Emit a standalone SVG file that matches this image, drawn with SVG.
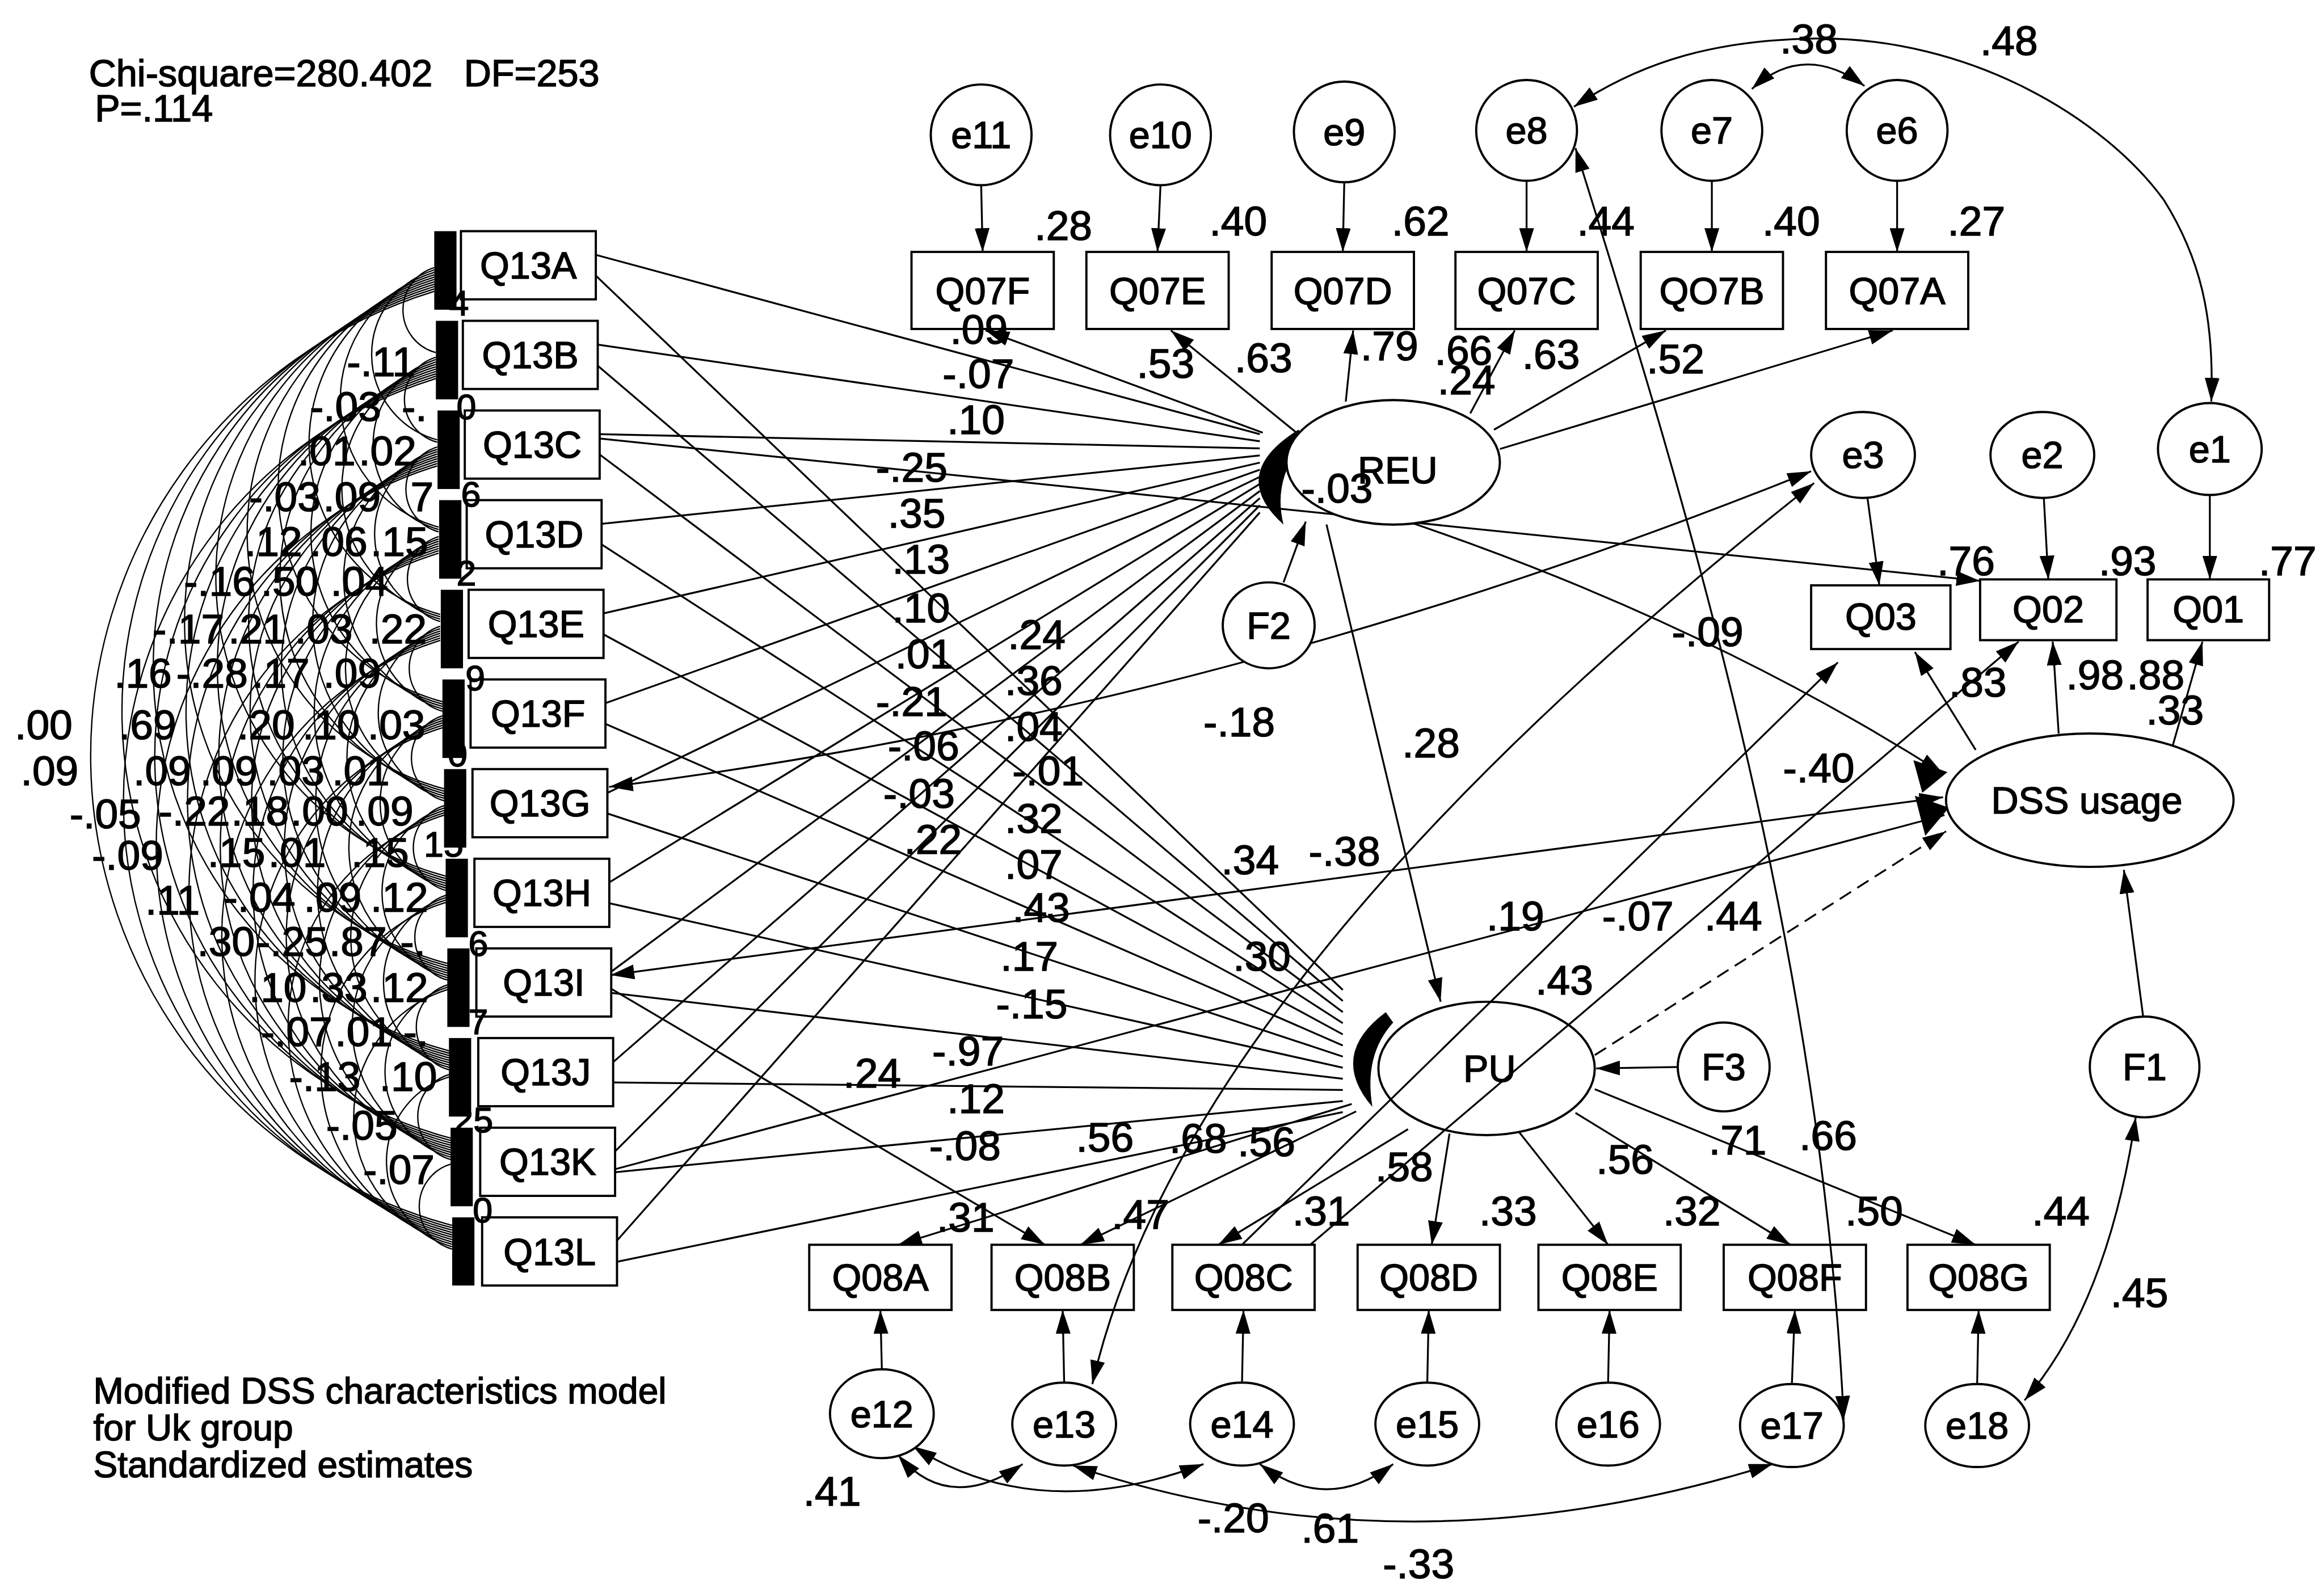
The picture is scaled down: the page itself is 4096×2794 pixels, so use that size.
<svg xmlns="http://www.w3.org/2000/svg" width="4096" height="2794" viewBox="0 0 4096 2794">
<defs>
<style>
.n{fill:#fff;stroke:#000;stroke-width:1.5}
.o{fill:none;stroke:#000;stroke-width:1.5}
.c{fill:none;stroke:#000;stroke-width:1.25}
.k{fill:none;stroke:#000;stroke-width:0.9}
.a{marker-end:url(#ah)}
.d{marker-start:url(#ah);marker-end:url(#ah)}
.dash{stroke-dasharray:9 5}
.bar{fill:#000}
text{font-family:"Liberation Sans",Arial,sans-serif;fill:#000;stroke:#000;stroke-width:0.6}
.t{font-size:25.5px;text-anchor:middle}
.v{font-size:28px}
.f{font-size:24px}
.h{font-size:25.5px;white-space:pre}
.h2{font-size:24.5px}
</style>
<marker id="ah" viewBox="0 0 16 10" refX="16" refY="5" markerWidth="16" markerHeight="10" markerUnits="userSpaceOnUse" orient="auto-start-reverse"><path d="M0,0 L16,5 L0,10 Z" fill="#000"/></marker>
</defs>
<rect width="4096" height="2794" fill="#fff"/>
<g transform="scale(2.6122)">

<g id="title">
<text class="h" x="60" y="58">Chi-square=280.402   DF=253</text>
<text class="h" x="64" y="82">P=.114</text>
<text class="h2" x="63" y="947">Modified DSS characteristics model</text>
<text class="h2" x="63" y="972">for Uk group</text>
<text class="h2" x="63" y="997">Standardized estimates</text>
</g>

<g id="connectors">
<g id="covariances" class="k">
<path d="M293 180.6 A29.8 29.8 0 0 0 294 237.9"/>
<path d="M294 241.1 A29.8 29.8 0 0 0 295 298.4"/>
<path d="M295 301.6 A29.8 29.8 0 0 0 296 358.9"/>
<path d="M296 362.1 A29.8 29.8 0 0 0 297 419.4"/>
<path d="M297 422.6 A29.8 29.8 0 0 0 298.5 479.9"/>
<path d="M298.5 483.1 A29.8 29.8 0 0 0 300 540.4"/>
<path d="M300 543.6 A29.8 29.8 0 0 0 301 600.9"/>
<path d="M301 604.1 A29.8 29.8 0 0 0 302 661.4"/>
<path d="M302 664.6 A29.8 29.8 0 0 0 303 721.9"/>
<path d="M303 725.1 A29.8 29.8 0 0 0 304 782.4"/>
<path d="M304 785.6 A29.8 29.8 0 0 0 305 842.9"/>
<path d="M293 182.2 A59.6 59.6 0 0 0 295 296.8"/>
<path d="M294 242.7 A59.6 59.6 0 0 0 296 357.3"/>
<path d="M295 303.2 A59.6 59.6 0 0 0 297 417.8"/>
<path d="M296 363.7 A59.6 59.6 0 0 0 298.5 478.3"/>
<path d="M297 424.2 A59.6 59.6 0 0 0 300 538.8"/>
<path d="M298.5 484.7 A59.6 59.6 0 0 0 301 599.3"/>
<path d="M300 545.2 A59.6 59.6 0 0 0 302 659.8"/>
<path d="M301 605.7 A59.6 59.6 0 0 0 303 720.3"/>
<path d="M302 666.2 A59.6 59.6 0 0 0 304 780.8"/>
<path d="M303 726.7 A59.6 59.6 0 0 0 305 841.3"/>
<path d="M293 183.8 A89.4 89.4 0 0 0 296 355.7"/>
<path d="M294 244.3 A89.4 89.4 0 0 0 297 416.2"/>
<path d="M295 304.8 A89.4 89.4 0 0 0 298.5 476.7"/>
<path d="M296 365.3 A89.4 89.4 0 0 0 300 537.2"/>
<path d="M297 425.8 A89.4 89.4 0 0 0 301 597.7"/>
<path d="M298.5 486.3 A89.4 89.4 0 0 0 302 658.2"/>
<path d="M300 546.8 A89.4 89.4 0 0 0 303 718.7"/>
<path d="M301 607.3 A89.4 89.4 0 0 0 304 779.2"/>
<path d="M302 667.8 A89.4 89.4 0 0 0 305 839.7"/>
<path d="M293 185.4 A119.2 119.2 0 0 0 297 414.6"/>
<path d="M294 245.9 A119.2 119.2 0 0 0 298.5 475.1"/>
<path d="M295 306.4 A119.2 119.2 0 0 0 300 535.6"/>
<path d="M296 366.9 A119.2 119.2 0 0 0 301 596.1"/>
<path d="M297 427.4 A119.2 119.2 0 0 0 302 656.6"/>
<path d="M298.5 487.9 A119.2 119.2 0 0 0 303 717.1"/>
<path d="M300 548.4 A119.2 119.2 0 0 0 304 777.6"/>
<path d="M301 608.9 A119.2 119.2 0 0 0 305 838.1"/>
<path d="M293 187 A149 149 0 0 0 298.5 473.5"/>
<path d="M294 247.5 A149 149 0 0 0 300 534"/>
<path d="M295 308 A149 149 0 0 0 301 594.5"/>
<path d="M296 368.5 A149 149 0 0 0 302 655"/>
<path d="M297 429 A149 149 0 0 0 303 715.5"/>
<path d="M298.5 489.5 A149 149 0 0 0 304 776"/>
<path d="M300 550 A149 149 0 0 0 305 836.5"/>
<path d="M293 188.6 A178.8 178.8 0 0 0 300 532.4"/>
<path d="M294 249.1 A178.8 178.8 0 0 0 301 592.9"/>
<path d="M295 309.6 A178.8 178.8 0 0 0 302 653.4"/>
<path d="M296 370.1 A178.8 178.8 0 0 0 303 713.9"/>
<path d="M297 430.6 A178.8 178.8 0 0 0 304 774.4"/>
<path d="M298.5 491.1 A178.8 178.8 0 0 0 305 834.9"/>
<path d="M293 190.2 A208.6 208.6 0 0 0 301 591.3"/>
<path d="M294 250.7 A208.6 208.6 0 0 0 302 651.8"/>
<path d="M295 311.2 A208.6 208.6 0 0 0 303 712.3"/>
<path d="M296 371.7 A208.6 208.6 0 0 0 304 772.8"/>
<path d="M297 432.2 A208.6 208.6 0 0 0 305 833.3"/>
<path d="M293 191.8 A238.4 238.4 0 0 0 302 650.2"/>
<path d="M294 252.3 A238.4 238.4 0 0 0 303 710.7"/>
<path d="M295 312.8 A238.4 238.4 0 0 0 304 771.2"/>
<path d="M296 373.3 A238.4 238.4 0 0 0 305 831.7"/>
<path d="M293 193.4 A268.2 268.2 0 0 0 303 709.1"/>
<path d="M294 253.9 A268.2 268.2 0 0 0 304 769.6"/>
<path d="M295 314.4 A268.2 268.2 0 0 0 305 830.1"/>
<path d="M293 195 A298 298 0 0 0 304 768"/>
<path d="M294 255.5 A298 298 0 0 0 305 828.5"/>
<path d="M293 196.6 A327.8 327.8 0 0 0 305 826.9"/>
</g>

<g id="q13-to-reu" class="c">
<path d="M402 172 L850 293"/>
<path d="M403 232.5 L850 297.8"/>
<path d="M405 293 L850 302.6"/>
<path d="M406 353.5 L850 307.4"/>
<path d="M407 414 L850 312.2"/>
<path d="M408.5 474.5 L850 317"/>
<path d="M410 535 L850 321.8"/>
<path d="M411 595.5 L850 326.6"/>
<path d="M412 656 L850 331.4"/>
<path d="M414 716.5 L850 336.2"/>
<path d="M415 777 L850 341"/>
<path d="M416 837.5 L850 345.8"/>
</g>
<g id="q13-to-pu" class="c">
<path d="M402 186 L906 668"/>
<path d="M403 246.5 L906 675.5"/>
<path d="M405 307 L906 683"/>
<path d="M406 367.5 L906 690.5"/>
<path d="M407 428 L906 698"/>
<path d="M408.5 488.5 L906 705.5"/>
<path d="M410 549 L906 713"/>
<path d="M411 609.5 L906 720.5"/>
<path d="M412 670 L906 728"/>
<path d="M414 730.5 L906 735.5"/>
<path d="M415 791 L906 743"/>
<path d="M416 851.5 L906 750.5"/>
</g>

<g id="paths" class="c">
<path class="a" d="M662 125 L663 170"/>
<path class="a" d="M783 125 L781 170"/>
<path class="a" d="M907 123 L906 170"/>
<path class="a" d="M1030 122 L1030 170"/>
<path class="a" d="M1155 122 L1155 170"/>
<path class="a" d="M1280 122 L1280 170"/>
<path class="a" d="M852 292 L665 223"/>
<path class="a" d="M876 293 L790 223"/>
<path class="a" d="M908 271 L913 223"/>
<path class="a" d="M992 279 L1022 223"/>
<path class="a" d="M1008 290 L1124 223"/>
<path class="a" d="M1012 303 L1277 223"/>
<path class="d" d="M1182 60 Q1217 28 1258 58"/>
<path class="d" d="M1062 72 C1110 40 1160 27 1225 26 C1330 25 1420 80 1460 135 C1485 175 1494 215 1492 271"/>
<path class="a" d="M1260 336 L1268 395"/>
<path class="a" d="M1379 336 L1382 391"/>
<path class="a" d="M1491 334 L1491 391"/>
<path class="a" d="M1333 506 L1292 440"/>
<path class="a" d="M1389 495 L1385 433"/>
<path class="a" d="M1466 503 L1486 433"/>
<path class="a" d="M405 296 L1336 392"/>
<path class="a" d="M950 352 Q1150 420 1311 522"/>
<path class="a" d="M895 354 L972 676"/>
<path class="a" d="M866 393 L881 352"/>
<path class="a" d="M1132 720 L1077 721"/>
<path class="a" d="M1446 686 L1433 587"/>
<path class="d" d="M1441 754 Q1422 880 1366 945"/>
<path class="a" d="M912 745 L606 840"/>
<path class="a" d="M915 750 L729 840"/>
<path class="a" d="M950 762 L822 840"/>
<path class="a" d="M978 765 L966 840"/>
<path class="a" d="M1025 764 L1085 840"/>
<path class="a" d="M1063 751 L1208 840"/>
<path class="a" d="M1076 735 L1333 840"/>
<path class="a" d="M595 924 L594 884"/>
<path class="a" d="M718 933 L717 884"/>
<path class="a" d="M838 933 L839 884"/>
<path class="a" d="M963 933 L964 884"/>
<path class="a" d="M1085 933 L1086 884"/>
<path class="a" d="M1209 934 L1211 884"/>
<path class="a" d="M1334 934 L1335 884"/>
<path class="d" d="M606 982 Q640 1022 690 988"/>
<path class="d" d="M616 976 Q700 1030 812 988"/>
<path class="d" d="M724 989 Q950 1065 1196 988"/>
<path class="d" d="M850 988 Q895 1022 940 988"/>
<path class="d" d="M1224 326 Q800 660 737 934"/>
<path class="d" d="M1222 318 Q820 480 411 531"/>
<path class="d" d="M1063 100 C1125 300 1228 620 1244 958"/>
<path class="a" d="M838 840 L1240 447"/>
<path class="a" d="M884 840 L1362 433"/>
<path class="a dash" d="M1076 712 L1313 561"/>
<path class="d" d="M412 658 L1311 538"/>
<path class="a" d="M415 789 L1312 550"/>
<path class="a" d="M412 667 L705 840"/>
</g>
</g>

<g id="corr-labels" class="v">
<text x="234" y="254">-.11</text>
<text x="209" y="284">-.03</text><text x="271" y="284">-.</text>
<text x="201" y="314">.01</text><text x="242" y="314">.02</text>
<text x="168" y="345">-.03</text><text x="218" y="345">.09</text><text x="277" y="345">7</text>
<text x="165" y="375">.12</text><text x="209" y="375">.06</text><text x="250" y="375">.15</text>
<text x="124" y="402">-.16</text><text x="176" y="402">.50</text><text x="223" y="402">.04</text>
<text x="103" y="434">-.17</text><text x="154" y="434">.21</text><text x="199" y="434">.03</text><text x="249" y="434">.22</text>
<text x="77" y="464">.16</text><text x="119" y="464">-.28</text><text x="170" y="464">.17</text><text x="218" y="464">.09</text>
<text x="10" y="499">.00</text><text x="80" y="499">.69</text><text x="160" y="499">.20</text><text x="204" y="499">.10</text><text x="248" y="499">.03</text>
<text x="14" y="530">.09</text><text x="90" y="530">.09</text><text x="135" y="530">.09</text><text x="180" y="530">.03</text><text x="224" y="530">.01</text>
<text x="47" y="559">-.05</text><text x="107" y="557">-.22</text><text x="156" y="557">.18</text><text x="196" y="557">.00</text><text x="240" y="557">.09</text>
<text x="62" y="587">-.09</text><text x="140" y="585">.15</text><text x="181" y="585">.01</text><text x="237" y="585">.15</text>
<text x="98" y="617">.11</text><text x="151" y="615">-.04</text><text x="205" y="615">.09</text><text x="250" y="615">.12</text>
<text x="133" y="645">.30</text><text x="173" y="645">-.25</text><text x="222" y="645">.87</text><text x="270" y="645">-.</text>
<text x="168" y="676">.10</text><text x="209" y="676">.33</text><text x="250" y="676">.12</text>
<text x="176" y="706">-.07</text><text x="226" y="706">.01</text><text x="272" y="706">-.</text>
<text x="195" y="736">-.13</text><text x="256" y="736">.10</text>
<text x="220" y="769">-.05</text>
<text x="245" y="799">-.07</text>
</g>

<g id="bars">
<rect class="bar" x="293" y="156" width="15" height="53"/>
<rect class="bar" x="294.1" y="216.5" width="15" height="53"/>
<rect class="bar" x="295.2" y="277" width="15" height="53"/>
<rect class="bar" x="296.3" y="337.5" width="15" height="53"/>
<rect class="bar" x="297.4" y="398" width="15" height="53"/>
<rect class="bar" x="298.5" y="458.5" width="15" height="53"/>
<rect class="bar" x="299.6" y="519" width="15" height="53"/>
<rect class="bar" x="300.7" y="579.5" width="15" height="53"/>
<rect class="bar" x="301.8" y="640" width="15" height="53"/>
<rect class="bar" x="302.9" y="700.5" width="15" height="53"/>
<rect class="bar" x="304" y="761" width="15" height="53"/>
<rect class="bar" x="305.1" y="821.5" width="15" height="46"/>
<path class="bar" d="M876 290 Q828 320 866 354 Q858 322 882 296 Z"/>
<path class="bar" d="M935 683 Q896 712 926 747 Q920 712 940 690 Z"/>
<path class="bar" d="M1291 513 L1314 521 L1297 535 Z"/>
<path class="bar" d="M1292 537 L1315 545 L1299 564 Z"/>
</g>

<g id="q13a"><rect class="n" x="311" y="156" width="91" height="46"/><text class="t" x="356.5" y="188">Q13A</text></g>
<g id="q13b"><rect class="n" x="312.3" y="216.5" width="91" height="46"/><text class="t" x="357.8" y="248.5">Q13B</text></g>
<g id="q13c"><rect class="n" x="313.6" y="277" width="91" height="46"/><text class="t" x="359.1" y="309">Q13C</text></g>
<g id="q13d"><rect class="n" x="314.9" y="337.5" width="91" height="46"/><text class="t" x="360.4" y="369.5">Q13D</text></g>
<g id="q13e"><rect class="n" x="316.2" y="398" width="91" height="46"/><text class="t" x="361.7" y="430">Q13E</text></g>
<g id="q13f"><rect class="n" x="317.5" y="458.5" width="91" height="46"/><text class="t" x="363" y="490.5">Q13F</text></g>
<g id="q13g"><rect class="n" x="318.8" y="519" width="91" height="46"/><text class="t" x="364.3" y="551">Q13G</text></g>
<g id="q13h"><rect class="n" x="320.1" y="579.5" width="91" height="46"/><text class="t" x="365.6" y="611.5">Q13H</text></g>
<g id="q13i"><rect class="n" x="321.4" y="640" width="91" height="46"/><text class="t" x="366.9" y="672">Q13I</text></g>
<g id="q13j"><rect class="n" x="322.7" y="700.5" width="91" height="46"/><text class="t" x="368.2" y="732.5">Q13J</text></g>
<g id="q13k"><rect class="n" x="324" y="761" width="91" height="46"/><text class="t" x="369.5" y="793">Q13K</text></g>
<g id="q13l"><rect class="n" x="325.3" y="821.5" width="91" height="46"/><text class="t" x="370.8" y="853.5">Q13L</text></g>

<g id="bar-fragments" class="f">
<text x="303" y="213">4</text><text x="308" y="283">0</text><text x="311" y="342">6</text><text x="308" y="395">2</text>
<text x="314" y="466">9</text><text x="302" y="517">0</text><text x="286" y="578">15</text><text x="316" y="645">6</text>
<text x="316" y="698">7</text><text x="306" y="764">25</text><text x="319" y="825">0</text>
</g>

<g id="q07f"><rect class="n" x="615" y="170" width="96" height="52"/><text class="t" x="663" y="205">Q07F</text></g>
<g id="q07e"><rect class="n" x="733" y="170" width="96" height="52"/><text class="t" x="781" y="205">Q07E</text></g>
<g id="q07d"><rect class="n" x="858" y="170" width="96" height="52"/><text class="t" x="906" y="205">Q07D</text></g>
<g id="q07c"><rect class="n" x="982" y="170" width="96" height="52"/><text class="t" x="1030" y="205">Q07C</text></g>
<g id="q07b"><rect class="n" x="1107" y="170" width="96" height="52"/><text class="t" x="1155" y="205">QO7B</text></g>
<g id="q07a"><rect class="n" x="1232" y="170" width="96" height="52"/><text class="t" x="1280" y="205">Q07A</text></g>

<g id="e11"><ellipse class="n" cx="662" cy="91" rx="34" ry="34"/><text class="t" x="662" y="100">e11</text></g>
<g id="e10"><ellipse class="n" cx="783" cy="91" rx="34" ry="34"/><text class="t" x="783" y="100">e10</text></g>
<g id="e9"><ellipse class="n" cx="907" cy="89" rx="34" ry="34"/><text class="t" x="907" y="98">e9</text></g>
<g id="e8"><ellipse class="n" cx="1030" cy="88" rx="34" ry="34"/><text class="t" x="1030" y="97">e8</text></g>
<g id="e7"><ellipse class="n" cx="1155" cy="88" rx="34" ry="34"/><text class="t" x="1155" y="97">e7</text></g>
<g id="e6"><ellipse class="n" cx="1280" cy="88" rx="34" ry="34"/><text class="t" x="1280" y="97">e6</text></g>

<g id="e3"><ellipse class="n" cx="1257" cy="307" rx="35" ry="29"/><text class="t" x="1257" y="316">e3</text></g>
<g id="e2"><ellipse class="n" cx="1378" cy="307" rx="35" ry="29"/><text class="t" x="1378" y="316">e2</text></g>
<g id="e1"><ellipse class="n" cx="1491" cy="303" rx="35" ry="31"/><text class="t" x="1491" y="312">e1</text></g>

<g id="q03"><rect class="n" x="1222" y="395" width="94" height="43"/><text class="t" x="1269" y="425">Q03</text></g>
<g id="q02"><rect class="n" x="1336" y="391" width="92" height="41"/><text class="t" x="1382" y="420">Q02</text></g>
<g id="q01"><rect class="n" x="1449" y="391" width="82" height="41"/><text class="t" x="1490" y="420">Q01</text></g>

<g id="reu"><ellipse class="n" cx="940" cy="312" rx="72" ry="42"/><text class="t" x="943" y="326">REU</text></g>
<g id="f2"><ellipse class="n" cx="856" cy="422" rx="31" ry="29"/><text class="t" x="856" y="431">F2</text></g>
<g id="dss"><ellipse class="n" cx="1410" cy="540" rx="97" ry="45"/><text class="t" x="1408" y="549">DSS usage</text></g>
<g id="pu"><ellipse class="o" cx="1003" cy="721" rx="73" ry="45"/><text class="t" x="1005" y="730">PU</text></g>
<g id="f3"><ellipse class="n" cx="1163" cy="720" rx="31" ry="30"/><text class="t" x="1163" y="729">F3</text></g>
<g id="f1"><ellipse class="n" cx="1447" cy="720" rx="37" ry="34"/><text class="t" x="1447" y="729">F1</text></g>

<g id="q08a"><rect class="n" x="546" y="840" width="96" height="44"/><text class="t" x="594" y="871">Q08A</text></g>
<g id="q08b"><rect class="o" x="669" y="840" width="96" height="44"/><text class="t" x="717" y="871">Q08B</text></g>
<g id="q08c"><rect class="n" x="791" y="840" width="96" height="44"/><text class="t" x="839" y="871">Q08C</text></g>
<g id="q08d"><rect class="n" x="916" y="840" width="96" height="44"/><text class="t" x="964" y="871">Q08D</text></g>
<g id="q08e"><rect class="n" x="1038" y="840" width="96" height="44"/><text class="t" x="1086" y="871">Q08E</text></g>
<g id="q08f"><rect class="o" x="1163" y="840" width="96" height="44"/><text class="t" x="1211" y="871">Q08F</text></g>
<g id="q08g"><rect class="n" x="1287" y="840" width="96" height="44"/><text class="t" x="1335" y="871">Q08G</text></g>

<g id="e12"><ellipse class="n" cx="595" cy="954" rx="35" ry="30"/><text class="t" x="595" y="963">e12</text></g>
<g id="e13"><ellipse class="n" cx="718" cy="961" rx="35" ry="28"/><text class="t" x="718" y="970">e13</text></g>
<g id="e14"><ellipse class="n" cx="838" cy="961" rx="35" ry="28"/><text class="t" x="838" y="970">e14</text></g>
<g id="e15"><ellipse class="n" cx="963" cy="961" rx="35" ry="28"/><text class="t" x="963" y="970">e15</text></g>
<g id="e16"><ellipse class="n" cx="1085" cy="961" rx="35" ry="28"/><text class="t" x="1085" y="970">e16</text></g>
<g id="e17"><ellipse class="n" cx="1209" cy="962" rx="35" ry="28"/><text class="t" x="1209" y="971">e17</text></g>
<g id="e18"><ellipse class="n" cx="1334" cy="962" rx="35" ry="28"/><text class="t" x="1334" y="971">e18</text></g>

<g id="edge-labels" class="v">
<text x="1201" y="36">.38</text><text x="1336" y="37">.48</text>
<text x="698" y="162">.28</text><text x="816" y="159">.40</text><text x="939" y="159">.62</text>
<text x="1064" y="159">.44</text><text x="1189" y="159">.40</text><text x="1314" y="159">.27</text>
<text x="641" y="232">.09</text><text x="636" y="262">-.07</text><text x="639" y="293">.10</text>
<text x="591" y="325">-.25</text><text x="599" y="356">.35</text><text x="602" y="387">.13</text><text x="602" y="420">.10</text>
<text x="767" y="255">.53</text><text x="833" y="251">.63</text><text x="918" y="243">.79</text>
<text x="968" y="246">.66</text><text x="1027" y="249">.63</text><text x="970" y="266">.24</text><text x="1111" y="252">.52</text>
<text x="878" y="339">-.03</text>
<text x="1307" y="388">.76</text><text x="1416" y="388">.93</text><text x="1524" y="388">.77</text>
<text x="1128" y="436">-.09</text>
<text x="1315" y="470">.83</text><text x="1394" y="465">.98</text><text x="1435" y="465">.88</text><text x="1448" y="489">.33</text>
<text x="946" y="511">.28</text><text x="1203" y="528">-.40</text><text x="812" y="497">-.18</text>
<text x="680" y="438">.24</text><text x="604" y="451">.01</text><text x="678" y="469">.36</text>
<text x="591" y="483">-.21</text><text x="678" y="500">.04</text><text x="599" y="513">-.06</text>
<text x="683" y="530">-.01</text><text x="596" y="545">-.03</text><text x="678" y="562">.32</text>
<text x="610" y="576">.22</text><text x="678" y="593">.07</text><text x="683" y="622">.43</text>
<text x="675" y="655">.17</text><text x="672" y="687">-.15</text><text x="629" y="719">-.97</text>
<text x="569" y="734">.24</text><text x="639" y="751">.12</text><text x="627" y="783">-.08</text>
<text x="726" y="777">.56</text><text x="789" y="778">.68</text><text x="835" y="780">.56</text>
<text x="824" y="590">.34</text><text x="883" y="584">-.38</text><text x="832" y="655">.30</text>
<text x="1003" y="628">.19</text><text x="1081" y="628">-.07</text><text x="1150" y="628">.44</text>
<text x="1036" y="671">.43</text>
<text x="928" y="797">.58</text><text x="1077" y="792">.56</text><text x="1153" y="779">.71</text><text x="1214" y="776">.66</text>
<text x="632" y="831">.31</text><text x="750" y="829">.47</text><text x="872" y="827">.31</text><text x="998" y="827">.33</text>
<text x="1122" y="827">.32</text><text x="1245" y="827">.50</text><text x="1371" y="827">.44</text>
<text x="1424" y="882">.45</text>
<text x="542" y="1016">.41</text><text x="808" y="1034">-.20</text><text x="878" y="1041">.61</text><text x="933" y="1065">-.33</text>
</g>
</g>
</svg>
